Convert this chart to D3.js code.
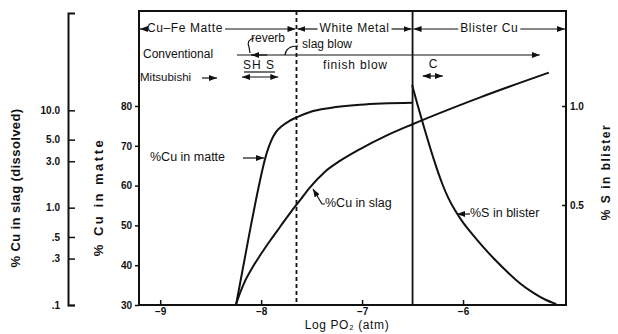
<!DOCTYPE html>
<html>
<head>
<meta charset="utf-8">
<script src="https://cdn.jsdelivr.net/npm/d3@7"></script>
<style>
  body { margin: 0; background: #fff; }
  svg { display: block; font-family: "Liberation Sans", Arial, sans-serif; }
</style>
</head>
<body>
<div id="chart"></div>
<script>
// ---- data ----
const xTicks = [-9, -8, -7, -6];
const matteTicks = [30, 40, 50, 60, 70, 80];
const slagTicks = [0.1, 0.3, 0.5, 1, 3, 5, 10];
const slagTickLabels = [".1", ".3", ".5", "1.0", "3.0", "5.0", "10.0"];
const blisterTicks = [0.5, 1.0];

// %Cu in matte vs log PO2
const matteLogPO2 = [-8.249, -8.11, -8.031, -7.981, -7.942, -7.902, -7.852, -7.793, -7.723, -7.644, -7.515, -7.317, -7.02, -6.504];
const matteCu     = [30, 48.8, 58.9, 64.7, 68.4, 71.2, 73.5, 75.0, 76.2, 77.2, 78.5, 79.5, 80.3, 80.8];

// %Cu in slag (dissolved) vs log PO2
const slagLogPO2 = [-8.25, -8.21, -8.16, -8.09, -8.01, -7.91, -7.81, -7.71, -7.61, -7.52, -7.37, -7.22, -7.02, -6.77, -6.5, -5.83, -5.15];
const slagCu     = [0.1, 0.132, 0.176, 0.239, 0.324, 0.46, 0.64, 0.89, 1.21, 1.6, 2.33, 3.02, 4.0, 5.43, 7.2, 13.6, 24.4];

// %S in blister vs log PO2
const blisterLogPO2 = [-6.504, -6.445, -6.385, -6.326, -6.266, -6.207, -6.148, -6.078, -5.999, -5.91, -5.811, -5.692, -5.563, -5.434, -5.305, -5.186, -5.077];
const blisterS      = [1.106, 0.995, 0.889, 0.788, 0.692, 0.606, 0.535, 0.47, 0.409, 0.354, 0.293, 0.227, 0.162, 0.101, 0.056, 0.02, 0.0];

// phase boundaries
const phaseBounds = [-9.21, -7.65, -6.5, -4.98];
const phaseNames = ["Cu\u2013Fe Matte", "White Metal", "Blister Cu"];

// ---- layout ----
const W = 618, H = 334;
const frame = {left: 139, right: 566, top: 11, bottom: 305};
const ink = "#111";

const svg = d3.select("#chart").append("svg")
    .attr("width", W).attr("height", H);

const defs = svg.append("defs");
defs.append("marker")
    .attr("id", "arr")
    .attr("viewBox", "0 0 8 6")
    .attr("refX", 8).attr("refY", 3)
    .attr("markerWidth", 8).attr("markerHeight", 6)
    .attr("markerUnits", "userSpaceOnUse")
    .attr("orient", "auto-start-reverse")
  .append("path")
    .attr("d", "M0,0 L8,3 L0,6 Z")
    .attr("fill", ink);

// scales
let x = d3.scaleLinear().domain([phaseBounds[0], phaseBounds[3]]).range([frame.left, frame.right]);
let yMatte = d3.scaleLinear().domain([30, 80]).range([305, 106]);
let ySlag = d3.scaleLog().domain([0.1, 100]).range([305, 13]);
let yS = d3.scaleLinear().domain([0, 1]).range([304, 106]);

// frame
svg.append("rect")
    .attr("x", frame.left).attr("y", frame.top)
    .attr("width", frame.right - frame.left).attr("height", frame.bottom - frame.top)
    .attr("fill", "none").attr("stroke", ink).attr("stroke-width", 2);

// phase boundary lines
svg.append("line")
    .attr("x1", x(phaseBounds[1])).attr("x2", x(phaseBounds[1]))
    .attr("y1", frame.top).attr("y2", frame.bottom)
    .attr("stroke", ink).attr("stroke-width", 1.8).attr("stroke-dasharray", "4,3");
svg.append("line")
    .attr("x1", x(phaseBounds[2])).attr("x2", x(phaseBounds[2]))
    .attr("y1", frame.top).attr("y2", frame.bottom)
    .attr("stroke", ink).attr("stroke-width", 1.8);

function styleAxis(g) {
    g.select(".domain").remove();
    g.selectAll("line").attr("stroke", ink).attr("stroke-width", 1.5);
    g.selectAll("text").attr("fill", ink).attr("font-size", 10).attr("font-weight", "bold")
        .attr("font-family", "\"Liberation Sans\", Arial, sans-serif");
}

// x axis (ticks inward)
svg.append("g")
    .attr("transform", `translate(0,${frame.bottom})`)
    .call(d3.axisBottom(x).tickValues(xTicks).tickSize(-5).tickPadding(3).tickFormat(d3.format("d")))
    .call(styleAxis);

// left main axis : %Cu in matte
svg.append("g")
    .attr("transform", `translate(${frame.left},0)`)
    .call(d3.axisLeft(yMatte).tickValues(matteTicks).tickSize(4).tickPadding(3))
    .call(styleAxis);

// far left axis : %Cu in slag (log)
let slagAxis = svg.append("g")
    .attr("transform", "translate(68,0)")
    .call(d3.axisRight(ySlag).tickValues(slagTicks).tickSize(7).tickSizeOuter(7)
        .tickFormat((d, i) => slagTickLabels[i]));
slagAxis.select(".domain").attr("stroke", ink).attr("stroke-width", 2);
slagAxis.selectAll("line").attr("stroke", ink).attr("stroke-width", 1.5);
slagAxis.selectAll("text")
    .attr("x", -8).attr("text-anchor", "end")
    .attr("fill", ink).attr("font-size", 10).attr("font-weight", "bold")
    .attr("font-family", "\"Liberation Sans\", Arial, sans-serif");

// right axis : %S in blister
svg.append("g")
    .attr("transform", `translate(${frame.right},0)`)
    .call(d3.axisRight(yS).tickValues(blisterTicks).tickSize(-4).tickPadding(4).tickFormat(d3.format(".1f")))
    .call(styleAxis);

// curves
let lineMatte = d3.line().x((d, i) => x(matteLogPO2[i])).y(d => yMatte(d)).curve(d3.curveMonotoneX);
let lineSlag = d3.line().x((d, i) => x(slagLogPO2[i])).y(d => ySlag(d)).curve(d3.curveMonotoneX);
let lineS = d3.line().x((d, i) => x(blisterLogPO2[i])).y(d => yS(d)).curve(d3.curveBasis);

let curves = svg.append("g").attr("fill", "none").attr("stroke", ink).attr("stroke-width", 2);
curves.append("path").attr("d", lineMatte(matteCu));
curves.append("path").attr("d", lineSlag(slagCu));
curves.append("path").attr("d", lineS(blisterS));

// ---- text helpers ----
function label(txt, px, py, opts = {}) {
    return svg.append("text")
        .attr("x", px).attr("y", py)
        .attr("font-size", opts.size || 12)
        .attr("font-weight", opts.weight || "normal")
        .attr("letter-spacing", opts.ls || 0)
        .attr("text-anchor", opts.anchor || "start")
        .attr("dominant-baseline", "middle")
        .attr("fill", ink)
        .text(txt);
}
function arrow(x1, y1, x2, y2, both) {
    let l = svg.append("line")
        .attr("x1", x1).attr("y1", y1).attr("x2", x2).attr("y2", y2)
        .attr("stroke", ink).attr("stroke-width", 1.2)
        .attr("marker-end", "url(#arr)");
    if (both) l.attr("marker-start", "url(#arr)");
    return l;
}

// phase row along the top
const phaseTextX = [147, null, null];
const rowY = 29;
phaseNames.forEach((name, i) => {
    let x0 = x(phaseBounds[i]), x1 = x(phaseBounds[i + 1]);
    let t = label(name, phaseTextX[i] != null ? phaseTextX[i] : (x0 + x1) / 2, rowY,
        {size: 12, anchor: phaseTextX[i] != null ? "start" : "middle", ls: 0.6});
    let bb = t.node().getBBox();
    arrow(bb.x - 2, rowY, x0 + 1, rowY);
    arrow(bb.x + bb.width + 2, rowY, x1 - 1, rowY);
});

// Conventional route
label("Conventional", 143, 55, {size: 12});
arrow(x(-8.24), 55, x(-5.24), 55);
label("reverb", 268, 39, {size: 12, anchor: "middle"});
svg.append("path").attr("d", "M254,38 Q246,40 249,47 L250,53")
    .attr("fill", "none").attr("stroke", ink).attr("stroke-width", 1.2);
arrow(x(-7.94), 55, x(-8.1), 55);
label("slag blow", 302, 45, {size: 12});
svg.append("path").attr("d", "M285,55 Q286,46 298,46")
    .attr("fill", "none").attr("stroke", ink).attr("stroke-width", 1.2);
label("finish blow", 323, 66, {size: 12, ls: 0.8});

// Mitsubishi route
label("Mitsubishi", 140, 78, {size: 11.5});
arrow(202, 78, 217, 78);
label("SH S", 259, 66, {size: 12, anchor: "middle", ls: 1});
svg.append("line").attr("x1", 244).attr("x2", 275).attr("y1", 72).attr("y2", 72)
    .attr("stroke", ink).attr("stroke-width", 1.2);
arrow(x(-8.19), 77, x(-7.83), 77, true);
label("C", 433, 65, {size: 12, anchor: "middle"});
arrow(x(-6.40), 76, x(-6.2), 76, true);

// curve labels
label("%Cu in matte", 150, 158, {size: 12.5});
arrow(243, 158, 264, 158);
label("%Cu in slag", 325, 204, {size: 12.5});
svg.append("path").attr("d", "M325,204 L322,204 L313,189")
    .attr("fill", "none").attr("stroke", ink).attr("stroke-width", 1.2)
    .attr("marker-end", "url(#arr)");
label("%S in blister", 470, 214, {size: 12.5});
arrow(470, 214, 457, 214);

// axis titles
label("Log PO\u2082  (atm)", 347, 326, {size: 12, anchor: "middle", ls: 0.6});
svg.append("text")
    .attr("transform", "translate(17,188) rotate(-90)")
    .attr("text-anchor", "middle").attr("dominant-baseline", "middle")
    .attr("font-size", 13).attr("font-weight", "bold").attr("letter-spacing", 0.4)
    .attr("fill", ink).text("% Cu in slag (dissolved)");
svg.append("text")
    .attr("transform", "translate(100,197) rotate(-90)")
    .attr("text-anchor", "middle").attr("dominant-baseline", "middle")
    .attr("font-size", 13).attr("font-weight", "bold").attr("letter-spacing", 2.5)
    .attr("fill", ink).text("% Cu in matte");
svg.append("text")
    .attr("transform", "translate(607,172) rotate(-90)")
    .attr("text-anchor", "middle").attr("dominant-baseline", "middle")
    .attr("font-size", 12).attr("font-weight", "bold").attr("letter-spacing", 1.5)
    .attr("fill", ink).text("% S in blister");
</script>
</body>
</html>
